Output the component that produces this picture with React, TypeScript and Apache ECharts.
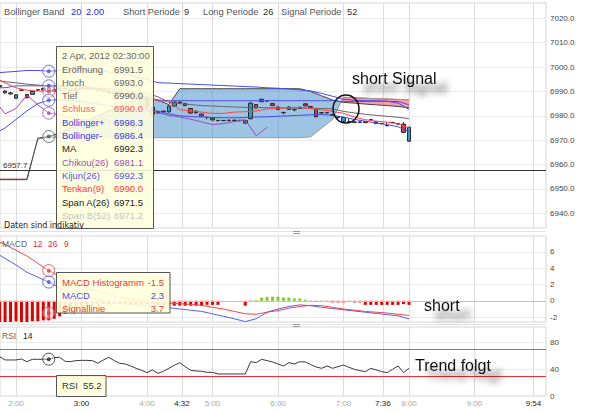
import React, { useEffect, useRef } from 'react';
import * as echarts from 'echarts';

// ---------------- time axis (minutes after midnight) ----------------
const X_MIN = 105.34;
const X_MAX = 605.5;
const timeTicks = [120, 180, 240, 272, 300, 360, 420, 456, 480, 540, 594];
const strongTicks = [180, 272, 456, 594];

// ---------------- price panel ----------------
const priceTicks = [6940, 6950, 6960, 6970, 6980, 6990, 7000, 7010, 7020];
const refPrice = 6957.7;
const lastPrice = 6975.3;

// 5-minute candles from 1:45 to 8:00 : [open, close, low, high]
const barStart = 105;
const barStep = 5;
const candles = [
  [6992.4, 6991.9, 6991.6, 6992.6],
  [6990.2, 6989.4, 6989.1, 6990.4],
  [6989.4, 6989.0, 6988.6, 6989.8],
  [6987.2, 6988.6, 6987.0, 6988.8],
  [6990.6, 6990.5, 6990.2, 6990.9],
  [6988.8, 6987.4, 6987.2, 6989.0],
  [6988.8, 6990.0, 6988.6, 6990.2],
  [6990.6, 6990.7, 6990.2, 6991.0],
  [6991.2, 6990.6, 6990.4, 6991.4],
  [6991.5, 6990.0, 6990.0, 6993.0],
  [6990.0, 6990.8, 6989.8, 6991.0],
  [6990.8, 6991.4, 6990.6, 6991.8],
  [6991.4, 6990.9, 6990.6, 6991.6],
  [6990.9, 6990.3, 6990.0, 6991.1],
  [6990.3, 6991.2, 6990.1, 6991.4],
  [6991.2, 6991.6, 6990.9, 6992.0],
  [6991.6, 6990.9, 6990.6, 6991.8],
  [6990.9, 6991.3, 6990.7, 6991.5],
  [6991.3, 6990.5, 6990.3, 6991.5],
  [6990.5, 6990.0, 6989.7, 6990.7],
  [6990.0, 6989.3, 6989.0, 6990.2],
  [6989.3, 6989.8, 6989.1, 6990.0],
  [6989.8, 6989.0, 6988.8, 6990.0],
  [6989.0, 6988.3, 6988.1, 6989.2],
  [6988.3, 6988.8, 6988.0, 6989.0],
  [6988.8, 6987.9, 6987.6, 6989.0],
  [6987.9, 6986.8, 6986.6, 6988.1],
  [6986.8, 6983.5, 6983.2, 6987.0],
  [6983.5, 6980.6, 6980.3, 6983.8],
  [6981.2, 6981.8, 6980.8, 6982.1],
  [6981.9, 6981.6, 6981.3, 6982.1],
  [6981.6, 6984.0, 6981.4, 6984.2],
  [6984.0, 6985.6, 6983.8, 6986.0],
  [6985.6, 6985.4, 6985.0, 6986.0],
  [6985.0, 6984.2, 6984.0, 6985.2],
  [6983.0, 6981.1, 6980.9, 6983.2],
  [6981.9, 6981.2, 6981.0, 6982.2],
  [6979.9, 6980.7, 6979.7, 6980.9],
  [6979.4, 6979.3, 6978.5, 6979.5],
  [6978.3, 6979.0, 6978.1, 6979.2],
  [6978.1, 6978.0, 6977.8, 6978.3],
  [6978.0, 6978.1, 6977.8, 6978.3],
  [6978.2, 6978.0, 6977.9, 6978.4],
  [6978.0, 6978.2, 6977.8, 6978.4],
  [6978.2, 6978.0, 6977.7, 6978.3],
  [6977.0, 6978.0, 6976.8, 6978.2],
  [6978.8, 6985.2, 6978.6, 6985.6],
  [6984.6, 6983.2, 6983.0, 6984.8],
  [6985.8, 6986.8, 6985.6, 6987.0],
  [6986.2, 6986.1, 6985.6, 6986.3],
  [6985.0, 6984.2, 6984.0, 6985.2],
  [6983.6, 6982.6, 6982.4, 6983.8],
  [6981.4, 6981.3, 6980.6, 6981.5],
  [6982.6, 6983.6, 6982.4, 6983.8],
  [6982.6, 6982.5, 6981.8, 6982.7],
  [6983.0, 6983.5, 6982.8, 6983.7],
  [6984.9, 6984.1, 6983.9, 6985.1],
  [6983.8, 6983.5, 6983.2, 6984.0],
  [6982.6, 6979.6, 6979.4, 6982.8],
  [6981.3, 6981.2, 6980.8, 6981.5],
  [6981.3, 6981.2, 6981.0, 6981.4],
  [6980.5, 6980.2, 6980.0, 6980.8],
  [6979.6, 6979.2, 6978.8, 6979.8],
  [6977.7, 6979.3, 6977.5, 6979.5],
  [6977.6, 6977.5, 6977.4, 6978.8],
  [6977.5, 6977.3, 6977.0, 6977.6],
  [6977.3, 6977.5, 6977.0, 6977.8],
  [6977.6, 6977.2, 6977.0, 6977.8],
  [6978.5, 6978.4, 6978.2, 6978.6],
  [6976.8, 6977.6, 6976.6, 6977.8],
  [6976.9, 6976.8, 6976.5, 6977.0],
  [6976.0, 6975.9, 6975.8, 6977.2],
  [6977.3, 6977.2, 6977.0, 6977.5],
  [6976.8, 6976.6, 6976.3, 6977.0],
  [6976.6, 6973.2, 6972.9, 6977.4],
  [6969.6, 6975.3, 6969.4, 6975.5],
];

// indicator lines, every 10 minutes from 1:40 to 8:00
const lineStart = 100;
const lineStep = 10;
const bbUpper = [
  6997.5, 6997.9, 6998.2, 6998.6, 6998.6, 6998.3, 6998.5, 6998.6, 6998.8, 6998.6,
  6998.2, 6997.6, 6997.0, 6996.0, 6995.0, 6993.6, 6993.4, 6993.2, 6993.0, 6992.8,
  6992.6, 6992.4, 6992.2, 6992.0, 6991.8, 6991.5, 6991.3, 6991.0, 6990.6, 6990.2,
  6989.2, 6988.0, 6986.8, 6986.4, 6986.2, 6986.2, 6986.0, 6985.2, 6982.6,
];
const bbLower = [
  6972.5, 6975.0, 6978.5, 6982.0, 6985.0, 6986.4, 6986.6, 6986.2, 6985.8, 6985.2,
  6984.5, 6983.8, 6983.0, 6982.4, 6982.2, 6981.8, 6980.8, 6980.0, 6979.7, 6979.5,
  6979.3, 6979.2, 6979.2, 6979.3, 6979.5, 6979.6, 6979.8, 6980.0, 6980.2, 6980.4,
  6980.6, 6980.2, 6979.5, 6978.5, 6977.8, 6977.0, 6976.4, 6975.5, 6973.5,
];
const movingAvg = [
  6994.8, 6994.0, 6993.5, 6993.0, 6992.6, 6992.3, 6992.2, 6992.0, 6991.8, 6991.5,
  6991.2, 6990.8, 6990.3, 6989.8, 6989.2, 6987.8, 6985.5, 6985.0, 6984.6, 6984.2,
  6984.0, 6983.8, 6983.6, 6983.5, 6983.4, 6983.3, 6983.3, 6983.2, 6983.2, 6983.1,
  6983.0, 6982.8, 6981.8, 6981.2, 6980.6, 6980.2, 6979.8, 6979.4, 6978.8,
];
const tenkan = [
  6995.6, 6993.5, 6991.5, 6990.5, 6990.2, 6990.0, 6990.5, 6991.0, 6991.0, 6990.8,
  6990.5, 6990.0, 6989.5, 6988.5, 6988.0, 6986.0, 6986.0, 6982.5, 6982.0, 6981.5,
  6981.0, 6981.0, 6981.5, 6981.7, 6982.0, 6982.8, 6983.0, 6983.3, 6983.5, 6983.0,
  6982.5, 6981.8, 6981.0, 6979.5, 6978.4, 6977.8, 6977.4, 6976.7, 6975.0,
];
const kijun = [
  6991.5, 6991.5, 6992.3, 6992.3, 6992.3, 6992.3, 6992.3, 6992.3, 6992.3, 6991.5,
  6990.5, 6989.5, 6988.5, 6987.5, 6987.0, 6986.5, 6986.2, 6986.2, 6986.2, 6986.2,
  6986.2, 6986.2, 6986.2, 6986.2, 6986.2, 6986.2, 6986.2, 6986.2, 6986.2, 6986.2,
  6986.2, 6986.2, 6985.9, 6985.9, 6985.9, 6985.9, 6985.9, 6985.9, 6984.5,
];
const chikou = [
  6986.6, 6980.8, 6983.0, 6988.5, 6984.5, 6981.1, 6980.4, 6979.2, 6978.4, 6978.2,
  6978.8, 6977.4, 6985.0, 6982.5, 6983.0, 6981.2, 6980.2, 6979.5, 6978.6, 6977.5,
  6976.4, 6976.8, 6977.6, 6978.4, 6971.8, 6975.3,
];
const spanA = [
  6953.8, 6953.8, 6953.8, 6953.8, 6970.8, 6971.5, 6973.0, 6975.0, 6977.0, 6979.0,
  6981.0, 6983.0, 6985.0, 6986.5, 6987.8, 6986.4, 6984.6, 6991.1, 6991.1, 6991.1,
  6991.1, 6991.1, 6991.1, 6991.1, 6991.1, 6991.1, 6991.1, 6991.1, 6991.1, 6990.0,
  6988.2, 6986.5, 6985.5, 6985.2, 6984.8, 6984.5, 6984.2, 6983.8, 6983.3,
];
const spanB = [
  6954.0, 6954.0, 6954.0, 6954.0, 6970.5, 6971.2, 6971.0, 6971.0, 6971.0, 6971.0,
  6971.0, 6971.0, 6971.0, 6971.0, 6971.0, 6971.0, 6971.0, 6971.0, 6971.0, 6971.0,
  6971.0, 6971.0, 6971.0, 6971.0, 6971.0, 6971.0, 6971.0, 6971.0, 6971.0, 6971.4,
  6975.0, 6978.5, 6987.6, 6987.4, 6987.2, 6987.0, 6986.9, 6986.7, 6986.6,
];

// ---------------- MACD panel ----------------
const macdTicks = [-2, 0, 2, 4, 6];
const macdHist = [
  -2.6, -2.6, -2.6, -2.5, -2.6, -2.6, -2.5, -2.5, -2.4, -2.4,
  -2.2, -1.9, -1.6, -1.3, -1.0, -0.8, -0.6, -0.5, -0.5, -0.4,
  -0.4, -0.4, -0.4, -0.4, -0.4, -0.4, -0.4, -0.4, -0.4,
  -0.5, -0.5, -0.6, -0.6, -0.6, -0.6, -0.6, -0.6, -0.6, -0.5,
  -0.5, -0.5, 0, 0, 0, 0, -0.6, -0.1,
  0.1, 0.4, 0.5, 0.5, 0.5, 0.4, 0.4, 0.3, 0.3, 0.15,
  -0.1, -0.1, -0.15, -0.15, -0.2, -0.2, -0.2, -0.15, -0.2, -0.2,
  -0.5, -0.5, -0.5, -0.5, -0.5, -0.5, -0.5, -0.4, -0.5,
];
const macdLine = [
  6.0, 5.2, 4.4, 3.5, 2.9, 2.3, 1.6, 1.0, 0.6, 0.3,
  0.0, -0.2, -0.4, -0.5, -0.6, -0.7, -0.85, -1.0, -1.15, -1.3,
  -1.6, -1.9, -2.2, -2.55, -2.2, -1.4, -1.0, -0.7, -0.5, -0.6,
  -0.8, -0.95, -1.1, -1.25, -1.4, -1.55, -1.7, -1.85, -2.2,
];
const signalLine = [
  7.5, 6.9, 6.2, 5.5, 4.6, 3.7, 3.0, 2.4, 1.9, 1.4,
  1.0, 0.6, 0.3, 0.1, -0.1, -0.2, -0.3, -0.35, -0.45, -0.55,
  -0.8, -1.0, -1.3, -1.6, -1.65, -1.4, -1.2, -0.9, -0.7, -0.55,
  -0.6, -0.8, -1.0, -1.15, -1.3, -1.4, -1.5, -1.65, -1.8,
];

// ---------------- RSI panel ----------------
const rsiTicks = [0, 40, 80];
const rsiUpper = 70;
const rsiLower = 30;
const rsi = [
  59, 54, 54, 54, 55.4, 51.4, 55, 55, 55, 55.2,
  57.5, 58, 52, 51.5, 53, 53.4, 53.4, 53, 49, 54,
  58, 53, 49, 48, 45, 41.5, 38.5, 35, 39, 34,
  37, 41.5, 46, 50, 44, 38.5, 37.5, 37, 35.5, 35.5,
  33, 33, 33, 33, 33, 33, 51.4, 50, 55, 53,
  51, 48, 45, 50, 48, 51.4, 51, 47, 43.5, 41.5,
  45, 41.5, 44, 46.4, 43, 40, 38, 36.5, 41.5, 39,
  36.5, 35, 40, 45, 35, 41.5,
];

// ---------------- hover read-out (2 Apr 2012 02:30) ----------------
const hoverTime = 150;
const hoverTitle = '2 Apr, 2012 02:30:00';
const hoverLabels = ['Eröffnung', 'Hoch', 'Tief', 'Schluss', 'Bollinger+', 'Bollinger-', 'MA', 'Chikou(26)', 'Kijun(26)', 'Tenkan(9)', 'Span A(26)', 'Span B(52)'];
const hoverValues = [6991.5, 6993.0, 6990.0, 6990.0, 6998.3, 6986.4, 6992.3, 6981.1, 6992.3, 6990.0, 6971.5, 6971.2];
const macdHoverLabels = ['MACD Histogramm', 'MACD', 'Signallinie'];
const macdHoverValues = [-1.5, 2.3, 3.7];
const rsiHoverValue = 55.2;

// ---------------- styles ----------------
const FONT = "'Liberation Sans', Arial, sans-serif";
const BLUE = '#4848ee';
const RED = '#ff4444';
const PURPLE = '#9a4db5';
const hoverColors = ['#666', '#666', '#666', '#ff5a5a', '#3838e6', '#3838e6', '#222', '#a050b0', '#5454e0', '#ff3a3a', '#222', '#c4c4c4'];
const macdHoverColors = ['#e83a3a', '#4b4be6', '#e83a3a'];

const lineTimes = bbUpper.map((_, i) => lineStart + i * lineStep);
const barTimes = candles.map((_, i) => barStart + i * barStep);
const pair = (vals: number[]) => vals.map((v, i) => [lineTimes[i], v]);
const fmtTime = (v: number) => `${Math.floor(v / 60)}:${String(Math.round(v % 60)).padStart(2, '0')}`;

function cloudRuns() {
  const pts: { t: number; a: number; b: number; cross: boolean }[] = [];
  for (let i = 0; i < lineTimes.length; i++) {
    if (i > 0) {
      const d0 = spanA[i - 1] - spanB[i - 1];
      const d1 = spanA[i] - spanB[i];
      if (d0 * d1 < 0) {
        const f = d0 / (d0 - d1);
        const t = lineTimes[i - 1] + f * (lineTimes[i] - lineTimes[i - 1]);
        const v = spanA[i - 1] + f * (spanA[i] - spanA[i - 1]);
        pts.push({ t, a: v, b: v, cross: true });
      }
    }
    pts.push({ t: lineTimes[i], a: spanA[i], b: spanB[i], cross: false });
  }
  const runs: { pink: boolean; pts: typeof pts }[] = [];
  let cur: { pink: boolean; pts: typeof pts } | null = null;
  for (const p of pts) {
    if (p.cross) {
      const prevPink = cur ? cur.pink : false;
      if (cur) { cur.pts.push(p); runs.push(cur); }
      cur = { pink: !prevPink, pts: [p] };
      continue;
    }
    if (!cur) cur = { pink: p.a < p.b, pts: [] };
    cur.pts.push(p);
  }
  if (cur) runs.push(cur);
  return runs;
}

function buildOption() {
  const runs = cloudRuns();
  const lineS = (name: string, vals: number[], color: string, xi: number, width = 1) => ({
    type: 'line', name, data: pair(vals), xAxisIndex: xi, yAxisIndex: xi,
    symbol: 'none', silent: true, lineStyle: { color, width }, itemStyle: { color },
  });
  const rings = (pts: { v: number; c: string }[], xi: number) => [
    {
      type: 'scatter', xAxisIndex: xi, yAxisIndex: xi, silent: true, symbolSize: 12, z: 4,
      data: pts.map((p) => ({ value: [hoverTime, p.v], itemStyle: { color: 'rgba(255,255,255,0.45)', borderColor: p.c, borderWidth: 1 } })),
    },
    {
      type: 'scatter', xAxisIndex: xi, yAxisIndex: xi, silent: true, symbolSize: 4, z: 5,
      data: pts.map((p) => ({ value: [hoverTime, p.v], itemStyle: { color: p.c } })),
    },
  ];
  const xAxis = (gi: number, labels: boolean) => ({
    type: 'value', gridIndex: gi, min: X_MIN, max: X_MAX,
    axisLine: { show: false },
    axisTick: { show: false, customValues: timeTicks },
    axisLabel: {
      show: labels, customValues: timeTicks, formatter: (v: number) => fmtTime(v),
      fontSize: 8, fontFamily: FONT, margin: 3,
      color: (v: any) => (strongTicks.includes(Number(v)) ? '#222' : '#a8a8a8'),
    },
    splitLine: { show: true, lineStyle: { color: '#dcdcdc', width: 1 } },
  });
  const yAxis = (gi: number, min: number, max: number, ticks: number[], fmt: (v: number) => string) => ({
    type: 'value', gridIndex: gi, position: 'right', min, max,
    axisLine: { show: false },
    axisTick: { show: false, customValues: ticks },
    axisLabel: { customValues: ticks, formatter: fmt, fontSize: 8, fontFamily: FONT, color: '#444', margin: 4 },
    splitLine: { show: true, lineStyle: { color: '#ebebeb', width: 1 } },
  });

  const txt = (x: number, y: number, text: string, fill: string, size = 9, extra: any = {}) => ({
    type: 'text', x, y, z: 100, silent: true,
    style: { text, fill, fontSize: size, fontFamily: FONT, verticalAlign: 'middle', align: 'left', ...extra },
  });
  const shadowTxt = (x: number, y: number, text: string) => ({
    type: 'text', x, y, z: 101, silent: true,
    style: {
      text, fill: '#111', fontSize: 16, fontFamily: FONT, verticalAlign: 'middle', align: 'left',
      textShadowColor: 'rgba(0,0,0,0.6)', textShadowBlur: 6, textShadowOffsetX: 11, textShadowOffsetY: 9,
    },
  });

  const graphics: any[] = [];
  graphics.push(txt(4, 12, 'Bollinger Band', '#555', 9.3));
  graphics.push(txt(71, 12, '20', '#2a2ae0', 9.3));
  graphics.push(txt(86, 12, '2.00', '#2a2ae0', 9.3));
  graphics.push(txt(123, 12, 'Short Periode', '#555', 9.3));
  graphics.push(txt(184, 12, '9', '#333', 9.3));
  graphics.push(txt(203, 12, 'Long Periode', '#555', 9.3));
  graphics.push(txt(263, 12, '26', '#333', 9.3));
  graphics.push(txt(281, 12, 'Signal Periode', '#555', 9.3));
  graphics.push(txt(347, 12, '52', '#333', 9.3));
  graphics.push(txt(2, 244, 'MACD', '#666', 8.5));
  graphics.push(txt(33, 244, '12', '#e03030', 8.5));
  graphics.push(txt(48, 244, '26', '#e03030', 8.5));
  graphics.push(txt(64, 244, '9', '#e03030', 8.5));
  graphics.push(txt(2, 336, 'RSI', '#666', 8.5));
  graphics.push(txt(23, 336, '14', '#222', 8.5));
  graphics.push({ type: 'line', z: 99, silent: true, shape: { x1: 0, y1: 231.5, x2: 546, y2: 231.5 }, style: { stroke: '#e2e2e2', lineWidth: 1 } });
  graphics.push({ type: 'line', z: 99, silent: true, shape: { x1: 293, y1: 231.5, x2: 300, y2: 231.5 }, style: { stroke: '#999', lineWidth: 1 } });
  graphics.push({ type: 'line', z: 99, silent: true, shape: { x1: 293, y1: 233.5, x2: 300, y2: 233.5 }, style: { stroke: '#999', lineWidth: 1 } });
  graphics.push({ type: 'line', z: 99, silent: true, shape: { x1: 0, y1: 324.5, x2: 546, y2: 324.5 }, style: { stroke: '#e2e2e2', lineWidth: 1 } });
  graphics.push({ type: 'line', z: 99, silent: true, shape: { x1: 293, y1: 324.5, x2: 300, y2: 324.5 }, style: { stroke: '#999', lineWidth: 1 } });
  graphics.push({ type: 'line', z: 99, silent: true, shape: { x1: 293, y1: 326.5, x2: 300, y2: 326.5 }, style: { stroke: '#999', lineWidth: 1 } });
  graphics.push({ type: 'rect', z: 98, silent: true, shape: { x: 56.5, y: 46.5, width: 97, height: 182 }, style: { fill: 'rgba(255,255,222,0.88)', stroke: '#555', lineWidth: 1 } });
  graphics.push(txt(62, 55, hoverTitle, '#666', 9.5));
  hoverLabels.forEach((l, i) => {
    const y = 69 + i * 13.3;
    graphics.push(txt(62, y, l, hoverColors[i], 9.5));
    graphics.push(txt(143, y, hoverValues[i].toFixed(1), hoverColors[i], 9.5, { align: 'right' }));
  });
  graphics.push(txt(4, 225, 'Daten sind indikativ', '#222', 8, { fontFamily: "'DejaVu Sans', Verdana, sans-serif" }));
  graphics.push({ type: 'rect', z: 98, silent: true, shape: { x: 56.5, y: 272.5, width: 113.5, height: 40.5 }, style: { fill: 'rgba(255,255,222,0.9)', stroke: '#555', lineWidth: 1 } });
  macdHoverLabels.forEach((l, i) => {
    const y = 282.5 + i * 13.2;
    graphics.push(txt(62, y, l, macdHoverColors[i], 9.5));
    graphics.push(txt(164, y, macdHoverValues[i].toFixed(1), macdHoverColors[i], 9.5, { align: 'right' }));
  });
  graphics.push({ type: 'rect', z: 98, silent: true, shape: { x: 56.5, y: 375.5, width: 49.5, height: 21 }, style: { fill: 'rgba(255,255,222,0.9)', stroke: '#555', lineWidth: 1 } });
  graphics.push(txt(62, 385, `RSI  ${rsiHoverValue.toFixed(1)}`, '#333', 9.5));
  graphics.push({ type: 'ellipse', z: 101, silent: true, shape: { cx: 346, cy: 109, rx: 13, ry: 14 }, style: { fill: 'none', stroke: '#111', lineWidth: 1.5 } });
  graphics.push(shadowTxt(352, 78, 'short Signal'));
  graphics.push(shadowTxt(424, 305, 'short'));
  graphics.push(shadowTxt(415, 365, 'Trend folgt'));

  return {
    animation: false,
    backgroundColor: '#fff',
    textStyle: { fontFamily: FONT },
    grid: [
      { left: 0, right: 54, top: 3, height: 225, show: true, borderColor: '#d4d4d4', borderWidth: 1 },
      { left: 0, right: 54, top: 236, height: 86, show: true, borderColor: '#d4d4d4', borderWidth: 1 },
      { left: 0, right: 54, top: 327, height: 69, show: true, borderColor: '#d4d4d4', borderWidth: 1 },
    ],
    xAxis: [xAxis(0, false), xAxis(1, false), xAxis(2, true)],
    yAxis: [
      yAxis(0, 6933.98, 7026.27, priceTicks, (v) => Number(v).toFixed(1)),
      yAxis(1, -2.6, 7.95, macdTicks, (v) => String(v)),
      yAxis(2, 0, 103.4, rsiTicks, (v) => String(v)),
    ],
    graphic: { elements: graphics },
    series: [
      {
        type: 'candlestick', name: 'DAX', xAxisIndex: 0, yAxisIndex: 0, silent: true,
        data: candles.map((c, i) => [barTimes[i], c[0], c[1], c[2], c[3]]),
        encode: { x: 0, y: [1, 2, 3, 4] },
        barWidth: 4,
        itemStyle: { color: '#2b9bd6', color0: '#e53935', borderColor: '#2a2a2a', borderColor0: '#2a2a2a', borderWidth: 1 },
        markLine: {
          silent: true, symbol: ['none', 'none'],
          data: [
            {
              yAxis: refPrice, lineStyle: { color: '#333', width: 1, type: 'solid' },
              label: { show: true, position: 'insideStartTop', formatter: refPrice.toFixed(1), color: '#333', fontSize: 8, fontFamily: FONT, distance: [3, 1] },
            },
            {
              yAxis: lastPrice, lineStyle: { opacity: 0 },
              label: { show: true, position: 'end', formatter: lastPrice.toFixed(1), color: '#333', fontSize: 8, fontFamily: FONT, backgroundColor: '#e2e2e2', borderColor: '#555', borderWidth: 1, padding: [2, 13, 1, 2], distance: 1 },
            },
          ],
        },
      },
      lineS('Span B', spanB, '#9a9a9a', 0),
      lineS('Span A', spanA, '#444', 0),
      {
        type: 'custom', name: 'Kumo', xAxisIndex: 0, yAxisIndex: 0, silent: true, clip: true,
        data: [[lineTimes[0], spanA[0]]],
        encode: { x: 0, y: 1 },
        renderItem: (params: any, api: any) => {
          if (params.dataIndex !== 0) return null;
          const children: any[] = [];
          runs.forEach((run) => {
            const top = run.pts.map((p) => api.coord([p.t, p.a]));
            const bot = run.pts.map((p) => api.coord([p.t, p.b])).reverse();
            children.push({ type: 'polygon', shape: { points: top.concat(bot) }, style: { fill: run.pink ? 'rgba(240,80,100,0.55)' : 'rgba(60,138,200,0.5)' } });
            if (run.pink) {
              children.push({ type: 'polyline', shape: { points: run.pts.map((p) => api.coord([p.t, p.b])) }, style: { fill: 'none', stroke: '#e0505e', lineWidth: 1 } });
            }
          });
          return { type: 'group', children };
        },
      },
      lineS('MA', movingAvg, '#666', 0),
      lineS('Bollinger+', bbUpper, BLUE, 0),
      lineS('Bollinger-', bbLower, BLUE, 0),
      lineS('Kijun', kijun, '#5050e6', 0),
      lineS('Chikou', chikou, PURPLE, 0),
      lineS('Tenkan', tenkan, RED, 0),
      ...rings([
        { v: hoverValues[4], c: BLUE },
        { v: hoverValues[8], c: BLUE },
        { v: hoverValues[9], c: RED },
        { v: hoverValues[5], c: BLUE },
        { v: hoverValues[7], c: PURPLE },
        { v: hoverValues[10], c: '#555' },
      ], 0),
      {
        type: 'bar', name: 'Histogramm', xAxisIndex: 1, yAxisIndex: 1, silent: true, barWidth: 3,
        data: macdHist.map((v, i) => [barTimes[i], v]),
        itemStyle: { color: (p: any) => (p.value[1] >= 0 ? '#7fcc2a' : '#e00000') },
        markLine: {
          silent: true, symbol: ['none', 'none'], label: { show: false },
          data: [{ yAxis: 0, lineStyle: { color: '#a9c9e6', width: 1, type: 'solid' } }],
        },
      },
      lineS('MACD', macdLine, '#5c5cee', 1),
      lineS('Signal', signalLine, '#ee4444', 1),
      ...rings([
        { v: macdHoverValues[2], c: '#e83a3a' },
        { v: macdHoverValues[1], c: '#4b4be6' },
        { v: macdHoverValues[0], c: '#e83a3a' },
      ], 1),
      {
        type: 'line', name: 'RSI', xAxisIndex: 2, yAxisIndex: 2, silent: true, symbol: 'none',
        data: rsi.map((v, i) => [barTimes[i], v]),
        lineStyle: { color: '#3a3a3a', width: 1 },
        markLine: {
          silent: true, symbol: ['none', 'none'], label: { show: false },
          data: [
            { yAxis: rsiUpper, lineStyle: { color: '#4a8bb8', width: 1, type: 'solid' } },
            { yAxis: rsiLower, lineStyle: { color: '#f03030', width: 1, type: 'solid' } },
          ],
        },
      },
      ...rings([{ v: rsiHoverValue, c: '#222' }], 2),
    ],
  };
}

export default function App() {
  const ref = useRef<HTMLDivElement>(null);
  useEffect(() => {
    if (!ref.current) return;
    const chart = echarts.init(ref.current, undefined, { renderer: 'svg' });
    chart.setOption(buildOption() as any);
    return () => chart.dispose();
  }, []);
  return <div ref={ref} style={{ position: 'fixed', left: 0, top: 0, width: 600, height: 413, background: '#fff' }} />;
}
